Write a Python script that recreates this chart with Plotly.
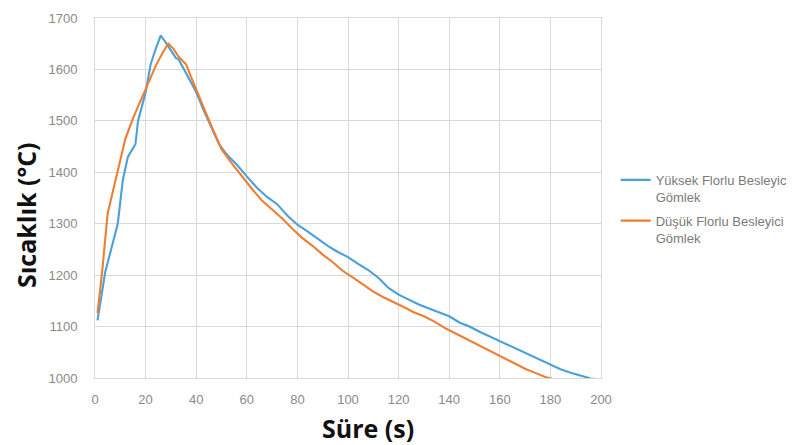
import plotly.graph_objects as go

# Yüksek Florlu Besleyici Gömlek (blue)
t_high = [1, 4, 7, 9, 11, 13, 16, 17, 20, 22, 24, 26, 28, 30, 32, 33, 35, 37, 38, 40,
          43, 46, 49, 52, 56, 60, 64, 68, 72, 76, 80, 84, 88, 92, 96, 100, 104, 108,
          112, 116, 120, 124, 128, 132, 136, 140, 144, 148, 152, 156, 160, 164, 168,
          172, 176, 180, 184, 188, 192, 196, 198]
T_high = [1112, 1205, 1262, 1300, 1385, 1430, 1455, 1500, 1555, 1610, 1640, 1666, 1652,
          1638, 1622, 1620, 1602, 1585, 1575, 1556, 1520, 1487, 1455, 1435, 1415, 1392,
          1370, 1352, 1338, 1316, 1298, 1285, 1271, 1257, 1245, 1235, 1222, 1210, 1195,
          1175, 1162, 1152, 1143, 1135, 1127, 1120, 1108, 1100, 1090, 1081, 1071, 1062,
          1053, 1044, 1035, 1026, 1017, 1010, 1004, 999, 998]

# Düşük Florlu Besleyici Gömlek (orange)
t_low = [1, 3, 5, 7, 9, 12, 15, 18, 21, 24, 27, 29, 31, 33, 35, 36, 38, 40, 43, 46, 50,
         54, 58, 62, 66, 70, 74, 78, 82, 86, 90, 94, 98, 102, 106, 110, 114, 118, 122,
         126, 130, 134, 138, 142, 146, 150, 154, 158, 162, 166, 170, 174, 178, 181]
T_low = [1126, 1215, 1320, 1360, 1405, 1465, 1505, 1540, 1575, 1607, 1635, 1650, 1640,
         1625, 1615, 1610, 1585, 1560, 1525, 1490, 1445, 1418, 1392, 1368, 1345, 1327,
         1310, 1290, 1272, 1257, 1240, 1225, 1208, 1195, 1182, 1168, 1157, 1148, 1138,
         1128, 1120, 1110, 1098, 1088, 1078, 1068, 1058, 1048, 1038, 1027, 1018, 1010,
         1002, 998]

series_names = ["Yüksek Florlu Besleyici<br>Gömlek", "Düşük Florlu Besleyici<br>Gömlek"]
x_ticks = [0, 20, 40, 60, 80, 100, 120, 140, 160, 180, 200]
y_ticks = [1000, 1100, 1200, 1300, 1400, 1500, 1600, 1700]
x_title = "Süre (s)"
y_title = "Sıcaklık (°C)"

fig = go.Figure()
fig.add_trace(go.Scatter(x=t_high, y=T_high, mode="lines", name=series_names[0],
                         legendgroup="a", line=dict(color="#4AA0D8", width=2.1)))
fig.add_trace(go.Scatter(x=t_low, y=T_low, mode="lines", name=series_names[1],
                         legendgroup="b", line=dict(color="#EE7E32", width=2.1)))

grid = "#D9D9D9"
tickfont = dict(family="Liberation Sans, Arial", size=13, color="#8A8A8A")
titlefont = dict(family="Open Sans, Noto Sans", size=25, color="#111111", weight="bold")

fig.update_layout(
    width=795, height=445,
    margin=dict(l=87, r=202, t=10, b=75, autoexpand=False),
    paper_bgcolor="white", plot_bgcolor="white",
    showlegend=True,
    legend=dict(x=1.029, y=0.592, xanchor="left", yanchor="top",
                font=dict(family="Liberation Sans, Arial", size=13, color="#7A7A7A"),
                valign="top", tracegroupgap=4, itemwidth=30),
    xaxis=dict(range=[0, 200], tickvals=x_ticks, showgrid=True, gridcolor=grid,
               gridwidth=1, showline=True, linecolor=grid, mirror=True, zeroline=False,
               tickfont=tickfont, ticks="", ticklabelstandoff=9, automargin=False),
    yaxis=dict(range=[1000, 1700], tickvals=y_ticks, showgrid=True, gridcolor=grid,
               gridwidth=1, showline=True, linecolor=grid, mirror=True, zeroline=False,
               tickfont=tickfont, ticks="", ticklabelstandoff=14, automargin=False),
    annotations=[
        dict(text=x_title, xref="paper", yref="paper", x=0.5395, y=-0.139,
             xanchor="center", yanchor="middle", showarrow=False, font=titlefont),
        dict(text=y_title, xref="paper", yref="paper", x=-0.136, y=0.453,
             xanchor="center", yanchor="middle", showarrow=False, font=titlefont,
             textangle=-90),
    ],
)

fig.write_html("out.html")
